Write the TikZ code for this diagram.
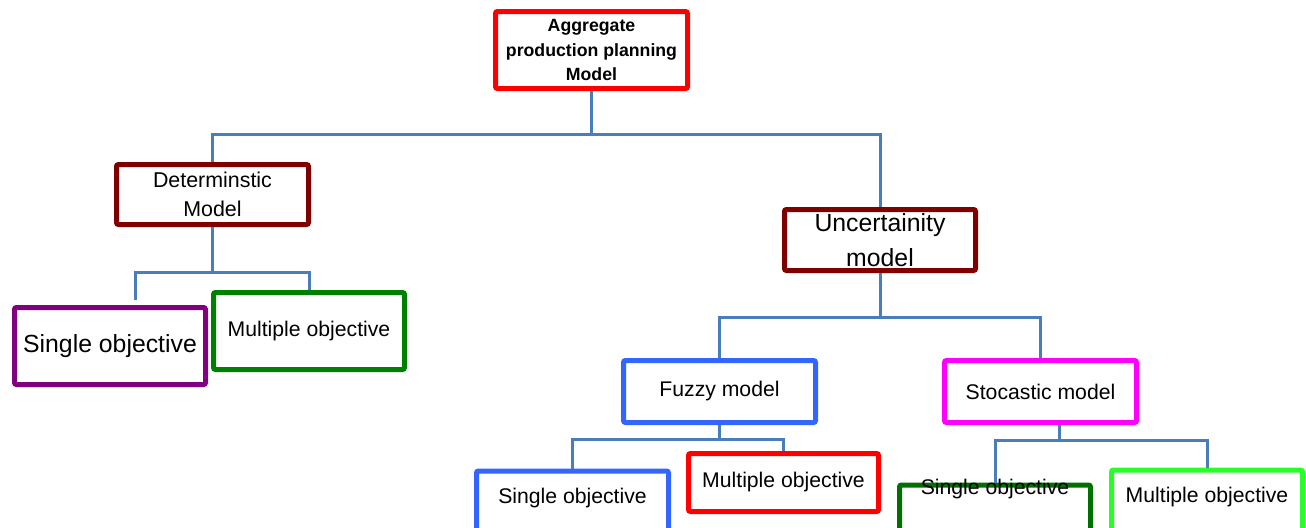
\documentclass[tikz,border=0pt]{standalone}
\usepackage{fontspec}
\setmainfont{Liberation Sans}
\usepackage{xcolor}
\definecolor{linkcol}{RGB}{74,126,187}
\definecolor{rootcol}{RGB}{255,0,0}
\definecolor{detcol}{RGB}{128,0,0}
\definecolor{singcol}{RGB}{128,0,128}
\definecolor{multcol}{RGB}{0,128,0}
\definecolor{fuzcol}{RGB}{51,102,255}
\definecolor{stocol}{RGB}{255,0,255}
\definecolor{sgreen}{RGB}{0,112,0}
\definecolor{lgreen}{RGB}{40,255,40}

\begin{document}
\begin{tikzpicture}[
  x=0.5pt, y=-0.5pt,
  box/.style={rectangle, draw, line width=2.5pt, rounded corners=1pt,
              fill=white, minimum width=96pt, inner sep=0pt, align=center},
  objtxt/.style={font=\fontsize{10.6pt}{13pt}\selectfont},
  link/.style={draw=linkcol, line width=1.5pt}
]
  \useasboundingbox (0,0) rectangle (1306,527);
  \clip (0,0) rectangle (1306,527);

  % Root and first level
  \node[box, draw=rootcol, minimum height=38.5pt,
        font=\bfseries\fontsize{8.85pt}{12.25pt}\selectfont]
    (agg) at (591.5,50) {Aggregate\\production planning\\Model};
  \node[box, draw=detcol, minimum height=30pt,
        font=\fontsize{10.7pt}{14.5pt}\selectfont]
    (determ) at (212.5,194.5) {Determinstic\\Model};
  \node[box, draw=detcol, minimum width=95.5pt, minimum height=30.5pt,
        font=\fontsize{12.4pt}{17.5pt}\selectfont]
    (uncert) at (880,240) {Uncertainity\\model};

  % Deterministic branch
  \node[box, draw=singcol, minimum width=95.5pt, minimum height=38.5pt,
        font=\fontsize{12.4pt}{15pt}\selectfont]
    (detSingle) at (110,346) {Single objective};
  \node[box, draw=multcol, minimum width=95.5pt, minimum height=38.5pt, objtxt]
    (detMulti) at (309,331) {Multiple objective};

  % Uncertainty branch
  \node[box, draw=fuzcol, minimum height=31pt, objtxt]
    (fuzzy) at (719.5,391.5) {Fuzzy model};
  \node[box, draw=stocol, minimum height=31pt, objtxt]
    (stoch) at (1040.5,391.5) {Stocastic model};

  % Leaves (cut by the lower edge)
  \node[box, draw=fuzcol, minimum height=90pt, anchor=north,
        label={[objtxt, anchor=center, yshift=-15pt]north:Single objective}]
    (fuzSingle) at (572.5,468.5) {};
  \node[box, draw=rootcol, minimum width=95pt, minimum height=29pt, objtxt]
    (fuzMulti) at (783.5,482.5) {Multiple objective};
  \node[box, draw=sgreen, minimum width=95.5pt, minimum height=90pt, anchor=north,
        label={[objtxt, anchor=center, yshift=-3.5pt]north:Single objective}]
    (stoSingle) at (995,482.5) {};
  \node[box, draw=lgreen, minimum width=95.5pt, minimum height=90pt, anchor=north,
        label={[objtxt, anchor=center, yshift=-15pt]north:Multiple objective}]
    (stoMulti) at (1207,467.5) {};

  % Connectors
  \draw[link] (agg.south) -- ++(0,43.5) -| (determ.north);
  \draw[link] (agg.south) -- ++(0,43.5) -| (uncert.north);
  \draw[link] (determ.south) -- ++(0,45.5)
    -| ([xshift=12.5pt,yshift=2.75pt]detSingle.north);
  \draw[link] (determ.south) -- ++(0,45.5) -| (detMulti.north);
  \draw[link] (uncert.south) -- ++(0,44.5) -| (fuzzy.north);
  \draw[link] (uncert.south) -- ++(0,44.5) -| (stoch.north);
  \draw[link] (fuzzy.south) -- ++(0,14.5) -| (fuzSingle.north);
  \draw[link] (fuzzy.south) -- ++(0,14.5) -| (fuzMulti.north);
  \draw[link] ([xshift=9.25pt]stoch.south) -- ++(0,15.5) -| (stoSingle.north);
  \draw[link] ([xshift=9.25pt]stoch.south) -- ++(0,15.5) -| (stoMulti.north);
\end{tikzpicture}
\end{document}
